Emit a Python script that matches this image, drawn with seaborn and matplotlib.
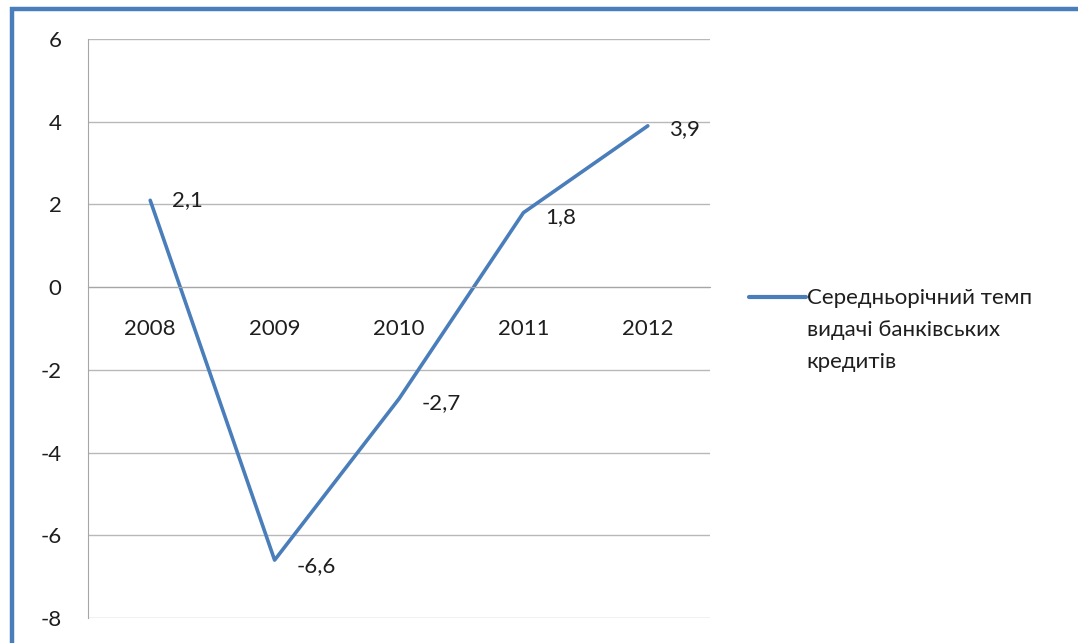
import matplotlib
matplotlib.use("Agg")
import matplotlib.pyplot as plt
import seaborn as sns
import pandas as pd
from matplotlib.patches import Rectangle

years = ["2008", "2009", "2010", "2011", "2012"]
values = [2.1, -6.6, -2.7, 1.8, 3.9]
value_labels = ["2,1", "-6,6", "-2,7", "1,8", "3,9"]
yticks = [-8, -6, -4, -2, 0, 2, 4, 6]
series_name = "Середньорічний темп\nвидачі банківських\nкредитів"

sns.set_style("white")
plt.rcParams['font.family'] = ['Lato', 'DejaVu Sans']

df = pd.DataFrame({"year": years, "value": values, "series": series_name})
df["pos"] = range(len(years))

fig = plt.figure(figsize=(10.78, 6.43), dpi=100)
ax = fig.add_axes([88/1078, 1 - 618/643, (710-88)/1078, (618-39)/643])

blue = "#4A7EBB"
txtc = "#1E1E1E"
fs = 16
sns.lineplot(data=df, x="pos", y="value", hue="series", palette=[blue],
             linewidth=2.6, ax=ax)

for s in ["top", "right"]:
    ax.spines[s].set_visible(False)
ax.spines["left"].set_color("#A6A6A6")
ax.spines["bottom"].set_position(("data", 0))
ax.spines["bottom"].set_color("#A6A6A6")

ax.set_xlim(-0.5, 4.5)
ax.set_ylim(-8, 6)
ax.set_yticks(yticks)
ax.set_yticklabels([str(t) for t in yticks], fontsize=fs, color=txtc)
ax.set_xticks(range(len(years)))
ax.set_xticklabels(years, fontsize=fs, color=txtc)
ax.set_xlabel("")
ax.set_ylabel("")
ax.grid(axis="y", color="#B8B8B8", linewidth=1)
ax.set_axisbelow(True)
ax.tick_params(axis="x", length=0, pad=23)
ax.tick_params(axis="y", length=0, pad=19)

offsets = [(16, 0), (16, -4), (16, -3), (16, -3), (15, -2)]
for i, (v, t) in enumerate(zip(values, value_labels)):
    ax.annotate(t, (i, v), xytext=offsets[i], textcoords="offset points",
                ha="left", va="center", fontsize=fs, color=txtc)

leg = ax.legend(loc="center left", bbox_to_anchor=(729/1078, 1 - 330/643),
                bbox_transform=fig.transFigure, frameon=False, fontsize=16,
                handlelength=2.55, handletextpad=0.05, labelspacing=0.3)
for line in leg.get_lines():
    line.set_linewidth(3)
    line.set_ydata([y + 23.8 for y in line.get_ydata()])
for txt in leg.get_texts():
    txt.set_color(txtc)
    txt.set_linespacing(1.72)

fig.patches.append(Rectangle((11.5/1078, -0.1), 1.2, 1 - 9.5/643 + 0.1,
                             transform=fig.transFigure, fill=False,
                             edgecolor=blue, linewidth=3.2))

fig.savefig("out.png", dpi=100)
